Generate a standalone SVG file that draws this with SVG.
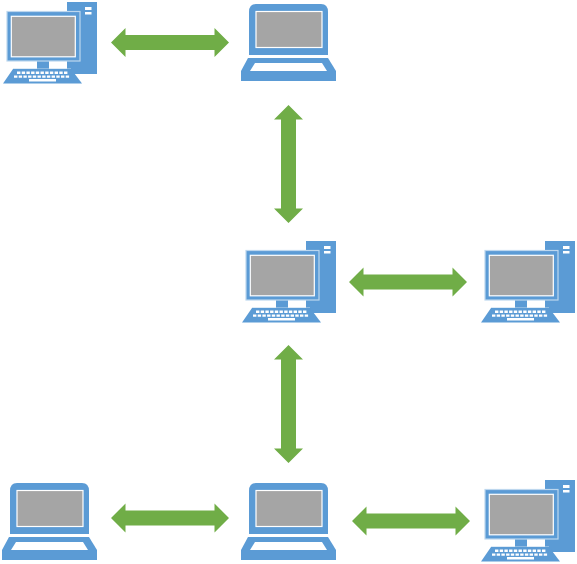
<svg xmlns="http://www.w3.org/2000/svg" width="577" height="564" viewBox="0 0 577 564">
<style>
.b{fill:#5b9bd5}.e{fill:none;stroke:#bdd7ee;stroke-width:1.200}.s{fill:#a5a5a5;stroke:#fff;stroke-width:1.200}.w{fill:#fff}.k{stroke:#fff;stroke-width:2.400;stroke-dasharray:3.400 1.300;fill:none}.a{fill:#70ad47}
</style>
<defs>
<g id="desktop">
<rect class="b" x="67" y="2" width="30" height="72"/>
<rect class="w" x="85" y="7" width="6.500" height="3"/>
<rect class="w" x="85" y="12" width="6.500" height="2.500"/>
<rect class="b" x="7" y="11.500" width="73" height="49.500"/>
<rect class="e" x="7" y="11.500" width="73" height="49.500"/>
<rect class="s" x="11.300" y="16.300" width="64" height="40.500"/>
<rect class="b" x="37" y="61.500" width="12" height="7.500"/>
<path class="e" d="M13 69H71"/>
<path class="b" d="M13 69H71L82 83.500H3Z"/>
<path class="k" d="M17 72.800H68"/>
<path class="k" d="M14 76.600H70"/>
<rect class="w" x="29" y="79" width="27" height="2.500"/>
</g>
<g id="laptop">
<path class="b" d="M256 4H321Q328 4 328 12V55H249V12Q249 4 256 4Z"/>
<rect class="s" x="256" y="11.500" width="66" height="36"/>
<path class="b" d="M248 58H328L336 71V81H241V71Z"/>
<path class="w" d="M255 63H322L327 71H250Z"/>
</g>
<path id="arrow" d="M-59 0L-44.500 -14.500V-7.500H44.500V-14.500L59 0L44.500 14.500V7.500H-44.500V14.500Z"/>
</defs>
<g id="connectors" class="a">
<use href="#arrow" x="170" y="42.500"/>
<use href="#arrow" transform="translate(288.500 164) rotate(90)"/>
<use href="#arrow" x="408" y="282"/>
<use href="#arrow" transform="translate(288.500 404) rotate(90)"/>
<use href="#arrow" x="170" y="518"/>
<use href="#arrow" x="411" y="521"/>
</g>
<g id="node-desktop-top-left"><use href="#desktop"/></g>
<g id="node-laptop-top"><use href="#laptop"/></g>
<g id="node-desktop-center"><use href="#desktop" x="239" y="239"/></g>
<g id="node-desktop-right"><use href="#desktop" x="478" y="239"/></g>
<g id="node-laptop-bottom-left"><use href="#laptop" x="-239" y="479"/></g>
<g id="node-laptop-bottom"><use href="#laptop" y="479"/></g>
<g id="node-desktop-bottom-right"><use href="#desktop" x="478" y="478"/></g>
</svg>
